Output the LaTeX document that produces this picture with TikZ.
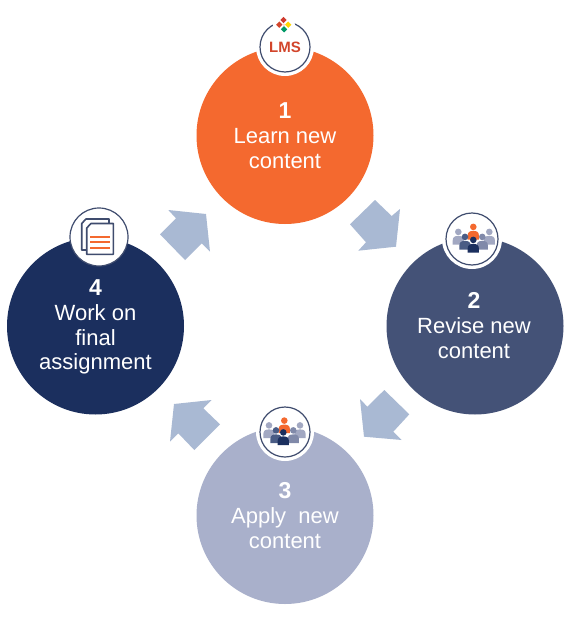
\documentclass[tikz,border=0pt]{standalone}
\usepackage{fontspec}
\setmainfont{Liberation Sans}
\definecolor{cOrange}{HTML}{F4692F}
\definecolor{cSlate}{HTML}{445277}
\definecolor{cLilac}{HTML}{A9B0CB}
\definecolor{cNavy}{HTML}{1B2F5E}
\definecolor{cArrow}{HTML}{A9B9D3}
\definecolor{cRing}{HTML}{3F4C6E}
\definecolor{cGrey}{HTML}{A2A8C2}
\definecolor{cSoft}{HTML}{8089A9}
\definecolor{cMid}{HTML}{4A5C85}
\definecolor{cFront}{HTML}{1B2F5E}
\definecolor{cLms}{HTML}{D2452B}
\tikzset{
  stage/.style={circle,minimum size=177pt,inner sep=0pt},
  stagetext/.style={text=white,align=center,inner sep=0pt,
    font=\fontsize{22}{24.7}\selectfont},
  halo/.style={circle,fill=white,minimum size=#1,inner sep=0pt},
  ring/.style={circle,draw=cRing,line width=1.2pt,fill=white,minimum size=#1,inner sep=0pt},
  blockarrow/.style={fill=cArrow,draw=none},
  docsheet/.style={draw=cRing,line width=1.6pt,fill=white,line join=round},
  docline/.style={draw=cOrange,line width=2pt},
  person/.pic={
    \fill[#1] (0,-3.6) circle (3.3);
    \fill[#1] (-5.6,9) -- (-5.6,5) .. controls (-5.6,1.5) and (-3.5,0.4) .. (0,0.4)
       .. controls (3.5,0.4) and (5.6,1.5) .. (5.6,5) -- (5.6,9) -- cycle;
  }
}
\newcommand{\logodiamond}[3]{\fill[#3] (#1,#2-3.2) -- (#1+3.2,#2) -- (#1,#2+3.2) -- (#1-3.2,#2) -- cycle;}
\begin{document}
\begin{tikzpicture}[x=1pt,y=-1pt]
\useasboundingbox (0,0) rectangle (570,618);
\fill[white] (0,0) rectangle (570,618);

% stages
\node[stage,fill=cOrange] (s1) at (285,135.5) {};
\node[stage,fill=cSlate]  (s2) at (475,326)   {};
\node[stage,fill=cLilac]  (s3) at (285,515.5) {};
\node[stage,fill=cNavy]   (s4) at (95.5,326)  {};
\node[stagetext] (t1) at (285,135.5) {\textbf{\fontsize{23}{24.7}\selectfont 1}\\Learn new\\content};
\node[stagetext] (t2) at (474,325.5) {\textbf{\fontsize{23}{24.7}\selectfont 2}\\Revise new\\content};
\node[stagetext] (t3) at (285,515.5) {\textbf{\fontsize{23}{24.7}\selectfont 3}\\Apply\ \ new\\content};
\node[stagetext] (t4) at (95.5,327.3) {\textbf{\fontsize{23}{24.7}\selectfont 4}\\Work on\\final\\assignment};

% block arrows
\fill[blockarrow] (375,200) -- (391.7,216) -- (400,209) -- (396,246.7) -- (358.3,250.7) -- (366,242.3) -- (350,224.3) -- cycle;
\fill[blockarrow] (384.3,390) -- (409.3,414.3) -- (393.3,431.7) -- (401.7,440) -- (364,436.7) -- (360,399) -- (367.3,406.7) -- cycle;
\fill[blockarrow] (211.7,400) -- (203.3,408.3) -- (220,424.3) -- (194.3,450) -- (178.3,433.3) -- (170,441.7) -- (174,404) -- cycle;
\fill[blockarrow] (168.3,210) -- (206,214) -- (210,251.7) -- (201.7,243.3) -- (185,260) -- (160,234.3) -- (176,218.3) -- cycle;

% icon 1: LMS
\node[halo=58pt] (h1) at (285,47) {};
\node[ring=50pt,text=cLms,font=\fontsize{15}{18}\selectfont\bfseries] (i1) at (285,47) {LMS};
\node[circle,fill=white,minimum size=22pt,inner sep=0pt] (l0) at (284,25) {};
\logodiamond{283.5}{20}{cLms!85!purple}
\logodiamond{279.3}{24.7}{cLms}
\logodiamond{288.2}{24.7}{yellow!75!orange}
\logodiamond{284}{29.3}{teal!80!green}
\fill[pink!70!white] (283.8,24.8) circle (1.5);

% icon 2: people
\node[halo=60pt] (h2) at (472,239) {};
\node[ring=52pt] (i2) at (472,239) {};
\pic at (458.3,235.5) {person=cGrey};
\pic at (489.3,235.5) {person=cGrey};
\pic at (473.3,230.5) {person=cOrange};
\pic at (465,240.5) {person=cMid};
\pic at (482.3,240.5) {person=cSoft};
\pic at (473.3,243.5) {person=cFront};

% icon 3: people
\node[halo=58pt] (h3) at (285,432) {};
\node[ring=50pt] (i3) at (285,432) {};
\pic at (269,429) {person=cGrey};
\pic at (300,429) {person=cGrey};
\pic at (284.3,424.2) {person=cOrange};
\pic at (276,434) {person=cMid};
\pic at (293.3,434) {person=cSoft};
\pic at (283.3,436) {person=cFront};

% icon 4: document
\node[ring=58pt] (i4) at (99,237) {};
\draw[docsheet] (86,219) -- (109,219) -- (109,250) -- (81.7,250) -- (81.7,223.5) -- cycle;
\draw[docsheet] (91,223.5) -- (113.3,223.5) -- (113.3,254.3) -- (86.7,254.3) -- (86.7,228) -- cycle;
\draw[docline] (90,236.7) -- (110,236.7);
\draw[docline] (90,242.3) -- (110,242.3);
\draw[docline] (90,248.3) -- (110,248.3);
\end{tikzpicture}
\end{document}
